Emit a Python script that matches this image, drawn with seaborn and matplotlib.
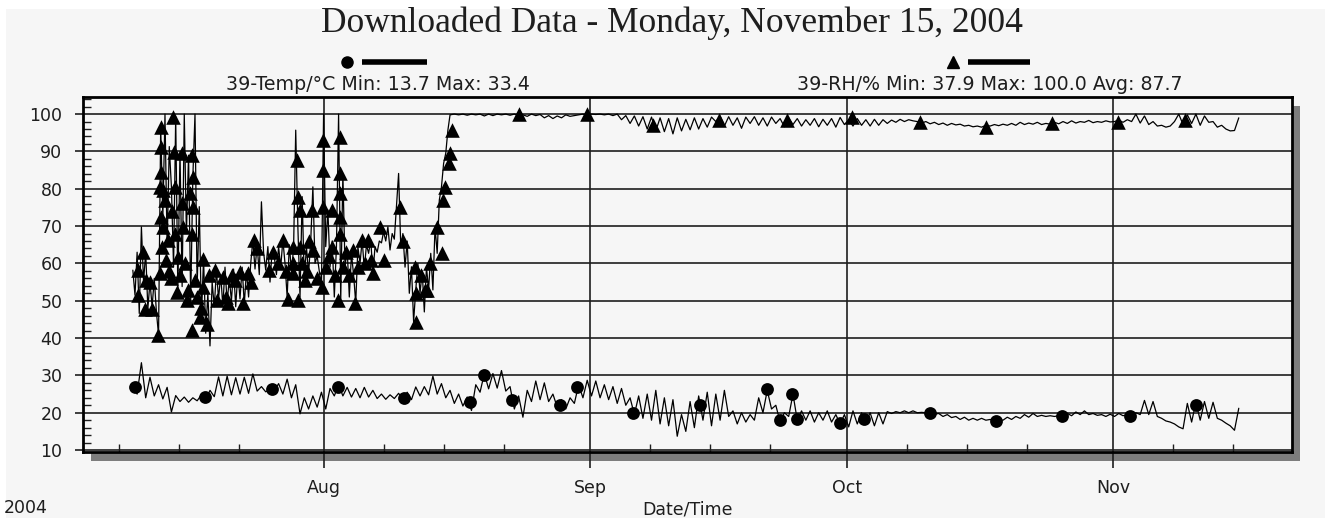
import matplotlib
matplotlib.use("Agg")
import matplotlib.pyplot as plt
import matplotlib.dates as mdates
from matplotlib.ticker import MultipleLocator
from matplotlib.lines import Line2D
from matplotlib.patches import Rectangle
from matplotlib.transforms import ScaledTranslation
import seaborn as sns
import pandas as pd

# temperature (degC), one reading every 12 h from 2004-07-09 16:00
temp = [
    27.0, 25.0, 33.4, 24.0, 29.5, 24.5, 27.5, 23.7, 26.8, 20.2,
    24.6, 23.0, 24.2, 22.8, 24.0, 23.2, 24.8, 23.5, 26.0, 24.3,
    29.6, 24.5, 29.8, 24.8, 29.4, 25.0, 29.5, 25.2, 30.4, 25.8,
    27.0, 25.6, 26.2, 25.8, 27.8, 25.0, 29.0, 24.0, 27.5, 19.7,
    24.0, 21.0, 24.5, 21.5, 25.5, 21.0, 26.5, 24.5, 27.5, 24.5,
    26.8, 24.2, 26.5, 24.0, 26.8, 24.2, 26.0, 23.8, 25.0, 23.6,
    24.8, 23.8, 25.2, 23.6, 25.5, 23.5, 26.9, 24.5, 27.0, 24.8,
    29.8, 25.0, 27.8, 24.0, 26.0, 22.5, 25.0, 21.8, 24.2, 20.6,
    27.5, 25.5, 30.5, 26.4, 30.5, 26.6, 31.3, 25.8, 27.0, 21.0,
    24.5, 18.8, 26.0, 23.0, 28.5, 23.5, 28.0, 23.0, 25.0, 21.5,
    23.5, 21.0, 24.0, 22.5, 27.5, 24.0, 28.7, 24.5, 28.5, 24.0,
    27.5, 23.5, 27.0, 22.5, 26.5, 22.0, 24.0, 19.5, 24.5, 18.5,
    25.0, 18.0, 26.0, 17.0, 24.0, 16.5, 23.5, 13.7, 19.5, 15.0,
    23.0, 16.0, 24.5, 18.0, 25.5, 16.5, 25.0, 18.0, 26.0, 19.0,
    20.5, 17.0, 20.0, 17.5, 19.5, 18.0, 24.0, 20.0, 26.0, 21.0,
    22.0, 17.5, 20.0, 19.0, 25.0, 18.0, 20.5, 18.0, 20.5, 17.5,
    20.0, 18.0, 20.5, 17.5, 19.5, 17.0, 19.5, 16.2, 20.5, 17.0,
    20.0, 17.5, 20.0, 16.5, 20.0, 17.0, 20.3, 19.8, 20.3, 20.0,
    20.5, 20.0, 20.5, 20.0, 20.1, 20.0, 20.0, 19.6, 19.8, 19.0,
    19.5, 18.7, 19.0, 18.2, 18.8, 18.0, 18.5, 18.0, 18.5, 18.0,
    18.2, 17.8, 18.2, 18.0, 18.8, 18.2, 19.0, 18.5, 19.5, 18.8,
    19.8, 19.0, 19.3, 19.0, 19.2, 19.0, 19.2, 19.1, 19.8, 19.2,
    20.2, 19.5, 20.5, 19.5, 19.8, 19.3, 19.5, 19.0, 19.6, 19.0,
    19.8, 19.2, 19.5, 19.0, 20.0, 19.5, 23.3, 19.5, 23.0, 19.0,
    18.5, 17.8, 17.5, 17.0, 16.2, 15.7, 22.5, 17.5, 22.8, 18.0,
    23.0, 18.5, 22.8, 18.5, 18.0, 17.2, 16.5, 15.3,
    21.2,
]

# relative humidity (%), every 6 h from 2004-07-09 16:00 (wet spell)
rh_early = [
    58.2, 51.5, 63.0, 46.6,
    69.8, 55.0, 63.1, 47.9,
    55.0, 48.4, 56.0, 47.0,
    40.8, 96.6, 72.5, 100.0,
    64.5, 91.3, 80.5, 59.0,
    99.3, 52.4, 90.0, 53.8,
    100.0, 68.0, 89.0, 50.2,
    83.2, 100.0, 53.8, 75.2,
    45.7, 61.3, 41.3, 52.0,
    37.9, 55.0, 48.4, 58.2,
    50.5, 57.0, 48.4, 59.0,
    49.5, 56.0, 50.0, 58.5,
    48.4, 57.5, 50.5, 59.0,
    49.0, 58.0, 51.0, 60.0,
    66.3, 58.5, 65.0, 57.0,
    76.5, 63.0, 58.2, 64.5,
    55.0, 63.5, 61.8, 57.0,
    64.5, 59.0, 66.3, 60.0,
    51.0, 65.0, 58.0, 64.0,
    95.7, 69.8, 51.0, 77.9,
    55.5, 64.5, 57.3, 66.0,
    80.5, 60.0, 62.0, 58.0,
    53.8, 100.0, 64.5, 74.3,
    59.0, 66.0, 51.0, 64.5,
    100.0, 50.2, 84.1, 59.0,
    64.0, 51.0, 62.5, 57.0,
    49.3, 64.5, 60.0, 66.3,
    58.5, 65.0, 62.7, 66.3,
    57.3, 64.5, 63.0, 66.0,
    65.5, 68.5, 66.0, 69.8,
    63.6, 68.0, 66.5, 75.2,
    84.1, 64.5, 68.0, 59.0,
    66.0, 52.0, 59.1, 44.4,
    52.9, 60.0, 52.0, 58.0,
    47.0, 59.0, 53.0, 62.7,
    52.9, 69.8, 62.7, 77.0,
    80.5, 86.8, 89.5, 95.7,
    99.8,
]

# relative humidity (%), every 12 h from 2004-08-16 04:00
rh_late = [
    100.0, 99.8, 100.0, 99.7, 100.0, 99.8, 100.0, 99.5, 100.0, 99.6, 100.0, 99.8, 100.0, 99.7,
    100.0, 99.6, 99.8, 99.4, 100.0, 99.6, 99.9, 99.0, 99.6, 98.8, 99.5, 99.0, 99.8, 99.4,
    99.6, 99.8, 100.0, 99.7, 100.0, 99.9, 100.0, 99.8, 100.0, 99.6, 100.0, 98.5, 99.6, 97.5,
    99.5, 96.8, 99.3, 96.0, 99.2, 95.5, 99.0, 95.3, 98.8, 94.7, 99.0, 95.5, 98.6, 95.8,
    99.0, 96.0, 98.8, 96.5, 99.2, 98.0, 99.5, 96.8, 99.3, 97.0, 99.0, 96.2, 99.2, 97.5,
    99.3, 97.0, 99.0, 96.8, 99.2, 97.5, 98.8, 96.6, 99.0, 97.2, 98.8, 96.8, 98.5, 97.0,
    98.8, 96.6, 98.6, 97.0, 98.8, 96.5, 99.1, 97.2, 98.5, 96.8, 98.8, 97.0, 98.5, 96.8,
    98.6, 97.0, 98.5, 97.5, 98.4, 97.8, 98.6, 98.0, 98.5, 98.2, 98.0, 97.6, 98.0, 97.4,
    97.8, 97.2, 97.6, 97.0, 97.5, 97.1, 97.3, 96.8, 97.0, 96.6, 96.8, 96.5, 97.0, 96.8,
    97.2, 96.9, 97.3, 97.0, 97.5, 97.0, 97.8, 97.2, 97.6, 97.3, 97.8, 97.2, 97.5, 97.3,
    97.8, 97.4, 98.0, 97.5, 98.2, 97.6, 98.0, 97.8, 98.3, 97.7, 98.0, 97.8, 98.2, 97.9,
    98.0, 98.4, 97.8, 98.5, 98.0, 100.0, 97.6, 99.5, 97.2, 98.0, 96.8, 97.0, 96.5, 96.8,
    98.0, 100.0, 97.2, 99.8, 97.5, 100.0, 97.0, 99.5, 97.8, 98.0, 96.5, 97.0, 96.0, 95.5,
    95.6, 99.0,
]

# plotted symbols: days since 2004-07-01 00:00, and value
temp_mark_day = [8.9, 17.1, 24.9, 32.6, 40.3, 48.0, 49.6, 52.9, 58.5, 60.5, 67.0, 74.8,
                 82.6, 84.2, 85.5, 86.1, 91.2, 93.9, 101.7, 109.4, 117.1, 125.0, 132.7]
temp_mark_val = [26.9, 24.2, 26.4, 26.9, 23.9, 22.9, 30.0, 23.3, 22.0, 26.9, 20.0, 22.0,
                 26.4, 18.0, 25.1, 18.4, 17.3, 18.4, 20.0, 17.8, 19.1, 19.0, 22.1]

rh_mark_day = [
    9.24, 9.32, 9.9, 10.17, 10.09, 10.68, 10.87, 11.65, 11.84, 11.96, 11.96, 11.96,
    11.84, 11.96, 12.04, 12.23, 12.23, 12.43, 12.81, 13.4, 13.5, 13.6, 13.6, 13.79,
    13.98, 14.45, 14.45, 14.56, 14.95, 15.34, 15.54, 15.73, 15.73, 15.54, 15.93, 15.54,
    16.5, 16.9, 16.9, 17.29, 18.26, 18.45, 19.23, 19.81, 20.59, 21.17, 21.56, 22.15,
    22.85, 24.56, 26.23, 26.81, 27.4, 27.39, 27.39, 27.78, 27.98, 27.9, 28.17, 28.17,
    28.75, 29.53, 29.72, 30.69, 30.89, 30.89, 30.89, 31.86, 31.86, 32.64, 32.83, 32.83,
    32.83, 32.83, 32.83, 33.22, 34.39, 34.58, 35.36, 36.14, 36.72, 37.5, 39.83, 41.58,
    41.7, 41.7, 42.75, 43.33, 44.11, 44.69, 44.88, 45.08, 45.58, 45.66, 45.86,
    12.5, 12.9, 13.1, 13.2, 14.2, 14.8, 15.1, 16.1, 16.6, 17.6, 19.5, 20.2,
    22.5, 23.2, 25.0, 25.6, 26.5, 28.4, 29.0, 29.2, 30.2, 31.2, 31.5, 32.2,
    33.5, 33.9, 34.9, 35.8, 36.4, 38.0, 40.2, 42.3, 43.0,
    53.75, 61.6, 69.3, 77.0, 85.0, 92.6, 100.5, 108.2, 115.9, 123.6, 131.4,
]
rh_mark_val = [
    58.2, 51.5, 63.1, 55.5, 47.9, 55.1, 47.9, 40.8, 57.3, 96.6, 91.3, 84.6,
    80.5, 72.5, 64.5, 79.6, 69.8, 77.0, 66.3, 99.3, 89.9, 80.5, 68.0, 52.4,
    61.8, 89.5, 76.1, 69.8, 50.2, 78.8, 89.0, 83.2, 75.2, 68.0, 55.5, 42.1,
    45.7, 61.3, 53.8, 43.9, 58.2, 50.2, 56.4, 49.3, 55.5, 57.8, 49.3, 57.3,
    66.3, 58.2, 66.3, 50.6, 60.0, 57.3, 64.5, 87.7, 77.9, 50.2, 74.3, 64.5,
    55.5, 74.3, 63.6, 53.8, 93.0, 85.0, 75.2, 74.3, 64.5, 50.2, 93.9, 84.1,
    78.8, 72.5, 68.0, 59.1, 63.6, 49.3, 66.3, 66.3, 57.3, 69.8, 75.2, 59.1,
    52.0, 44.4, 52.9, 60.0, 69.8, 62.7, 77.0, 80.5, 86.8, 89.5, 95.7,
    61.0, 58.0, 56.0, 74.0, 57.0, 60.0, 53.0, 51.0, 48.0, 57.0, 51.0, 57.0,
    55.0, 64.0, 63.0, 60.0, 58.0, 60.0, 58.0, 66.0, 56.0, 59.0, 62.0, 57.0,
    63.0, 57.0, 59.0, 60.0, 61.0, 61.0, 66.0, 57.0, 53.0,
    100.0, 100.0, 97.1, 98.4, 98.4, 99.1, 98.0, 96.5, 97.5, 98.0, 98.5,
]

title = "Downloaded Data - Monday, November 15, 2004"
temp_label = "39-Temp/°C Min: 13.7 Max: 33.4"
rh_label = "39-RH/% Min: 37.9 Max: 100.0 Avg: 87.7"
year_label = "2004"

W, H = 1325, 518
bg = "#f6f6f6"
ink = "#1e1e1e"


def fx(px):
    return px / W


def fy(py):
    return 1 - py / H


sns.set_theme(style="white")
plt.rcParams["font.family"] = ["DejaVu Sans"]

t0 = pd.Timestamp("2004-07-01")
temp_t = pd.date_range("2004-07-09 16:00", periods=len(temp), freq="12h")
rh_t = pd.date_range("2004-07-09 16:00", periods=len(rh_early), freq="6h").append(
    pd.date_range("2004-08-16 04:00", periods=len(rh_late), freq="12h"))
rh = rh_early + rh_late
tm_t = t0 + pd.to_timedelta(temp_mark_day, unit="D")
rm_t = t0 + pd.to_timedelta(rh_mark_day, unit="D")

fig = plt.figure(figsize=(W / 100, H / 100), dpi=100, facecolor="white")
fig.add_artist(Rectangle((fx(6), 0), 1, fy(9), transform=fig.transFigure,
                         facecolor=bg, edgecolor="none", zorder=-3))
ax = fig.add_axes([fx(83.3), fy(452.3), fx(1292) - fx(83.3), fy(97.3) - fy(452.3)])
ax.set_facecolor(bg)
# drop shadow behind the plot frame
shadow = Rectangle((0, 0), 1, 1, facecolor="#7d7d7d", edgecolor="none", zorder=-1,
                   transform=ax.transAxes + ScaledTranslation(0.08, -0.085, fig.dpi_scale_trans))
fig.add_artist(shadow)

sns.lineplot(x=temp_t, y=temp, ax=ax, color="black", lw=0.9, estimator=None, sort=False)
sns.lineplot(x=rh_t, y=rh, ax=ax, color="black", lw=0.9, estimator=None, sort=False)
sns.scatterplot(x=tm_t, y=temp_mark_val, ax=ax, marker="o", s=85, color="black",
                edgecolor="black", linewidth=0, zorder=3)
sns.scatterplot(x=rm_t, y=rh_mark_val, ax=ax, marker="^", s=110, color="black",
                edgecolor="black", linewidth=0, zorder=3)

ax.set_xlim(pd.Timestamp("2004-07-03 21:20"), pd.Timestamp("2004-11-21 21:00"))
ax.set_ylim(9.4, 104.5)
ax.xaxis.set_major_locator(mdates.MonthLocator())
ax.xaxis.set_major_formatter(mdates.DateFormatter("%b"))
ax.xaxis.set_minor_locator(mdates.DayLocator(bymonthday=[8, 15, 22]))
ax.yaxis.set_major_locator(MultipleLocator(10))
ax.yaxis.set_minor_locator(MultipleLocator(2))

ax.grid(True, which="major", color=ink, lw=1.2)
ax.tick_params(axis="y", which="major", direction="out", length=6, width=1.2,
               left=True, labelsize=12.5, pad=9, colors=ink)
ax.tick_params(axis="y", which="minor", direction="in", length=6, width=1, left=True,
               colors=ink)
ax.tick_params(axis="x", which="major", direction="out", length=11.5, width=1.2,
               bottom=True, labelsize=12.5, pad=8, colors=ink)
ax.tick_params(axis="x", which="minor", direction="in", length=6, width=1, bottom=True,
               colors=ink)
for sp in ax.spines.values():
    sp.set_linewidth(2)
    sp.set_color("black")

ax.set_ylabel("")
ax.set_xlabel("Date/Time", fontsize=12.5, color=ink)
ax.xaxis.set_label_coords(0.5, -0.137)
fig.text(fx(4), fy(508), year_label, ha="left", va="center", fontsize=12.5, color=ink)

fig.text(fx(672), fy(23), title, ha="center", va="center", fontsize=25.5,
         family="Liberation Serif", color=ink)

# legend keys: symbol plus thick bar, caption underneath
for cx, x0, x1, mk, label, lx in [(347, 362, 427, "o", temp_label, 378),
                                  (953, 968, 1030, "^", rh_label, 990)]:
    fig.add_artist(Line2D([fx(cx)], [fy(62)], marker=mk, ms=8, color="black", ls="none",
                          transform=fig.transFigure))
    fig.add_artist(Line2D([fx(x0), fx(x1)], [fy(62), fy(62)], lw=4, color="black",
                          solid_capstyle="butt", transform=fig.transFigure))
    fig.text(fx(lx), fy(85), label, ha="center", va="center", fontsize=13.7, color=ink)

fig.savefig("out.png", dpi=100, facecolor="white")
